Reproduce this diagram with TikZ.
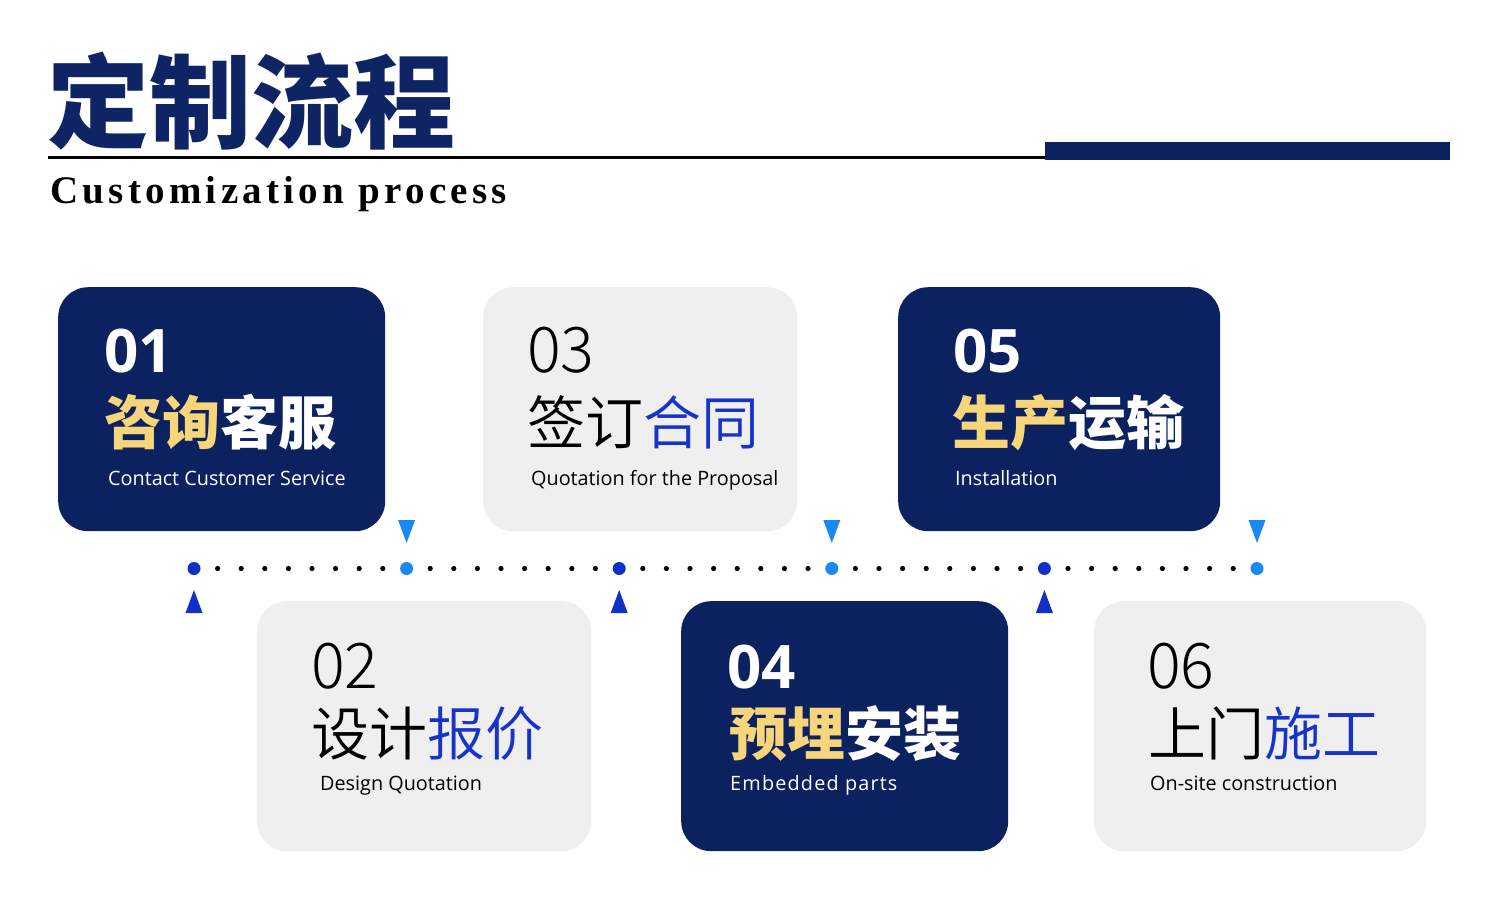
\documentclass[tikz,border=0pt]{standalone}
\usepackage{fontspec}
\setmainfont{Open Sans}
\newfontfamily\cjk{Noto Sans CJK SC}
\newfontfamily\cjkblack{Noto Sans CJK SC Black}
\newfontfamily\cjklight{Noto Sans CJK SC Light}
\newfontfamily\cjkdemi{Noto Sans CJK SC DemiLight}
\newfontfamily\titleen{Liberation Serif}[LetterSpace=11]
\definecolor{navy}{RGB}{12,33,96}
\definecolor{titlenavy}{RGB}{14,36,100}
\definecolor{boxgray}{RGB}{239,239,240}
\definecolor{gold}{RGB}{247,213,122}
\definecolor{txtblue}{RGB}{22,52,200}
\definecolor{ltblue}{RGB}{26,136,245}
\definecolor{dkblue}{RGB}{16,48,200}
\begin{document}
\begin{tikzpicture}[x=1pt,y=-1pt,
  darkbox/.style={fill=navy,rounded corners=30,inner sep=0,anchor=north west},
  lightbox/.style={fill=boxgray,rounded corners=30,inner sep=0,anchor=north west},
  txt/.style={anchor=base west,inner sep=0},
  boldnum/.style={txt,text=white,font=\fontsize{60}{60}\selectfont\bfseries},
  lightnum/.style={txt,text=black,font=\fontsize{63}{63}\cjklight},
  boldcn/.style={txt,text=white,font=\fontsize{58}{58}\cjk\bfseries},
  lightcn/.style={txt,text=black,font=\fontsize{58}{58}\cjkdemi},
  entxt/.style={txt,font=\fontsize{19.8}{19.8}\selectfont},
  bigdot/.style={circle,inner sep=0,minimum size=13},
  dotline/.style={line width=5.2,line cap=round,dash pattern=on 0pt off 23.6pt}
]
\useasboundingbox (0,0) rectangle (1500,900);
\fill[white] (0,0) rectangle (1500,900);

% title
\node[txt,text=titlenavy,font=\fontsize{102}{102}\cjkblack] (title) at (47,140) {定制流程};
\draw[line width=3] (48,157) -- (1045,157);
\fill[navy] (1045,142) rectangle (1450,160);
\node[txt,font=\fontsize{39}{39}\titleen\bfseries] (subtitle) at (50,203) {Customization process};

% boxes
\node[darkbox,minimum width=327,minimum height=244] (b1) at (58,287) {};
\node[lightbox,minimum width=314,minimum height=244] (b3) at (483,287) {};
\node[darkbox,minimum width=322,minimum height=244] (b5) at (898,287) {};
\node[lightbox,minimum width=334,minimum height=250] (b2) at (257,601) {};
\node[darkbox,minimum width=327,minimum height=250] (b4) at (681,601) {};
\node[lightbox,minimum width=332,minimum height=250] (b6) at (1094,601) {};

% box 01
\node[boldnum] (n1) at (104,372) {01};
\node[boldcn] (c1) at (104,444) {{\color{gold}咨询}客服};
\node[entxt,text=white] (e1) at (108,485) {Contact Customer Service};
% box 03
\node[lightnum] (n3) at (527,372) {03};
\node[lightcn] (c3) at (527,444) {签订{\color{txtblue}合同}};
\node[entxt,text=black] (e3) at (531,485) {Quotation for the Proposal};
% box 05
\node[boldnum] (n5) at (953,372) {05};
\node[boldcn] (c5) at (952,444) {{\color{gold}生产}运输};
\node[entxt,text=white] (e5) at (955,485) {Installation};
% box 02
\node[lightnum] (n2) at (311,688) {02};
\node[lightcn] (c2) at (311,755) {设计{\color{txtblue}报价}};
\node[entxt,text=black] (e2) at (320,790) {Design Quotation};
% box 04
\node[boldnum] (n4) at (727,688) {04};
\node[boldcn] (c4) at (729,755) {{\color{gold}预埋}安装};
\node[entxt,text=white] (e4) at (730,790) {\addfontfeature{LetterSpace=6}Embedded parts};
% box 06
\node[lightnum] (n6) at (1147,688) {06};
\node[lightcn] (c6) at (1148,755) {上门{\color{txtblue}施工}};
\node[entxt,text=black] (e6) at (1150,790) {On-site construction};

% timeline
\coordinate (p1) at (194,568.5);
\coordinate (p2) at (406.6,568.5);
\coordinate (p3) at (619.2,568.5);
\coordinate (p4) at (831.8,568.5);
\coordinate (p5) at (1044.4,568.5);
\coordinate (p6) at (1257,568.5);
\draw[dotline] (p1) -- (p2);
\draw[dotline] (p2) -- (p3);
\draw[dotline] (p3) -- (p4);
\draw[dotline] (p4) -- (p5);
\draw[dotline] (p5) -- (p6);
\node[bigdot,fill=dkblue] (d1) at (p1) {};
\node[bigdot,fill=ltblue] (d2) at (p2) {};
\node[bigdot,fill=dkblue] (d3) at (p3) {};
\node[bigdot,fill=ltblue] (d4) at (p4) {};
\node[bigdot,fill=dkblue] (d5) at (p5) {};
\node[bigdot,fill=ltblue] (d6) at (p6) {};

% triangles
\foreach \x in {406.6,831.8,1257}
  \fill[ltblue] (\x-8.5,520) -- (\x+8.5,520) -- (\x,543) -- cycle;
\foreach \x in {194,619.2,1044.4}
  \fill[dkblue] (\x-8.5,613) -- (\x+8.5,613) -- (\x,590) -- cycle;
\end{tikzpicture}
\end{document}
